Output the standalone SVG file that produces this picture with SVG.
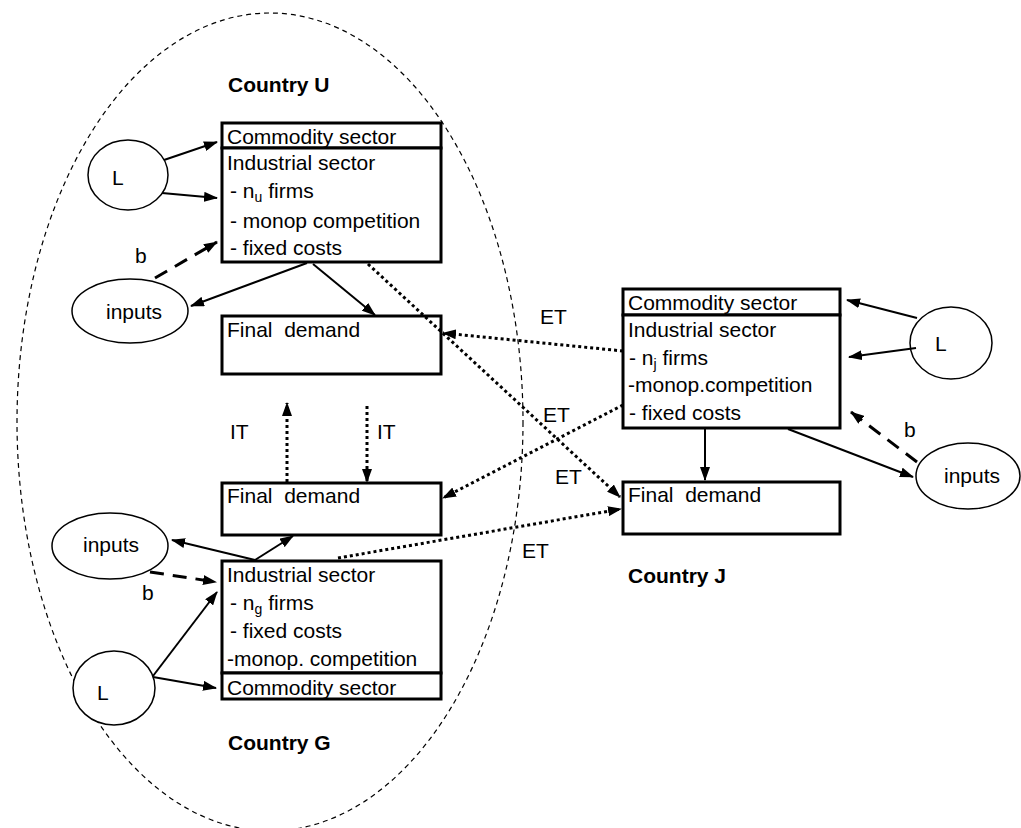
<svg xmlns="http://www.w3.org/2000/svg" width="1021" height="828" viewBox="0 0 1021 828">
<style>
text{font-family:"Liberation Sans",Arial,sans-serif;font-size:21px;fill:#000}
.bold{font-weight:bold}
.box{fill:#fff;stroke:#000;stroke-width:3}
.ell{fill:#fff;stroke:#000;stroke-width:1.5}
.solid{stroke:#000;stroke-width:2;fill:none}
.dot{stroke:#000;stroke-width:3;fill:none;stroke-dasharray:3 3}
.dash{stroke:#000;stroke-width:3;fill:none;stroke-dasharray:14 9}
.sub{font-size:14px}
</style>
<defs>
<marker id="ah" viewBox="0 0 14 10" refX="13" refY="5" markerWidth="14" markerHeight="10" markerUnits="userSpaceOnUse" orient="auto"><path d="M0,0 L14,5 L0,10 z" fill="#000"/></marker>
</defs>
<rect width="1021" height="828" fill="#fff"/>
<ellipse id="countryU-G" cx="270" cy="422" rx="253" ry="409" fill="none" stroke="#000" stroke-width="1.2" stroke-dasharray="5 4"/>
<g id="labels">
<text class="bold" x="228" y="92">Country U</text>
<text class="bold" x="628" y="583">Country J</text>
<text class="bold" x="228" y="750">Country G</text>
</g>
<g id="U-commodity"><rect class="box" x="222" y="123" width="219" height="25"/><text x="227" y="144">Commodity sector</text></g>
<g id="U-industrial"><rect class="box" x="222" y="148" width="219" height="114"/>
<text x="227" y="170">Industrial sector</text>
<text x="230" y="198">- n<tspan class="sub" dy="4">u</tspan><tspan dy="-4"> firms</tspan></text>
<text x="230" y="228">- monop competition</text>
<text x="230" y="255">- fixed costs</text></g>
<g id="U-final"><rect class="box" x="222" y="316" width="219" height="58"/><text x="227" y="337">Final&#160; demand</text></g>
<g id="U-L"><ellipse class="ell" cx="128" cy="175" rx="40" ry="35"/><text x="112" y="185">L</text></g>
<g id="U-inputs"><ellipse class="ell" cx="130" cy="311" rx="58" ry="32"/><text x="106" y="319">inputs</text></g>
<g id="G-final"><rect class="box" x="222" y="483" width="219" height="52"/><text x="227" y="503">Final&#160; demand</text></g>
<g id="G-industrial"><rect class="box" x="222" y="561" width="219" height="112"/>
<text x="227" y="582">Industrial sector</text>
<text x="230" y="610">- n<tspan class="sub" dy="4">g</tspan><tspan dy="-4"> firms</tspan></text>
<text x="230" y="638">- fixed costs</text>
<text x="227" y="666">-monop. competition</text></g>
<g id="G-commodity"><rect class="box" x="222" y="673" width="219" height="26"/><text x="227" y="695">Commodity sector</text></g>
<g id="G-inputs"><ellipse class="ell" cx="110" cy="546" rx="58" ry="33"/><text x="83" y="552">inputs</text></g>
<g id="G-L"><ellipse class="ell" cx="114" cy="688" rx="41" ry="37"/><text x="97" y="700">L</text></g>
<g id="J-commodity"><rect class="box" x="623" y="289" width="217" height="26"/><text x="628" y="310">Commodity sector</text></g>
<g id="J-industrial"><rect class="box" x="623" y="315" width="217" height="113"/>
<text x="628" y="337">Industrial sector</text>
<text x="629" y="365">- n<tspan class="sub" dy="4">j</tspan><tspan dy="-4"> firms</tspan></text>
<text x="628" y="392">-monop.competition</text>
<text x="629" y="420">- fixed costs</text></g>
<g id="J-final"><rect class="box" x="623" y="482" width="217" height="52"/><text x="628" y="502">Final&#160; demand</text></g>
<g id="J-L"><ellipse class="ell" cx="951" cy="343" rx="41" ry="36"/><text x="935" y="351">L</text></g>
<g id="J-inputs"><ellipse class="ell" cx="968" cy="476" rx="52" ry="33"/><text x="944" y="483">inputs</text></g>
<g id="connectors">
<line class="solid" x1="164" y1="160" x2="217" y2="142" marker-end="url(#ah)"/>
<line class="solid" x1="162" y1="193" x2="217" y2="198" marker-end="url(#ah)"/>
<line class="dash" x1="155" y1="278" x2="217" y2="242" marker-end="url(#ah)"/>
<line class="solid" x1="307" y1="263" x2="191" y2="306" marker-end="url(#ah)"/>
<line class="solid" x1="313" y1="264" x2="375" y2="315" marker-end="url(#ah)"/>
<line class="dot" x1="368" y1="264" x2="620" y2="497" marker-end="url(#ah)"/>
<line class="dot" x1="623" y1="351" x2="443" y2="333" marker-end="url(#ah)"/>
<line class="dot" x1="623" y1="405" x2="443" y2="498" marker-end="url(#ah)"/>
<line class="dot" x1="338" y1="558" x2="621" y2="509" marker-end="url(#ah)"/>
<line class="dot" x1="287" y1="482" x2="287" y2="403" marker-end="url(#ah)"/>
<line class="dot" x1="367" y1="406" x2="367" y2="482" marker-end="url(#ah)"/>
<line class="solid" x1="255" y1="560" x2="293" y2="536" marker-end="url(#ah)"/>
<line class="solid" x1="255" y1="560" x2="172" y2="540" marker-end="url(#ah)"/>
<line class="dash" x1="150" y1="572" x2="216" y2="582" marker-end="url(#ah)"/>
<line class="solid" x1="153" y1="676" x2="217" y2="592" marker-end="url(#ah)"/>
<line class="solid" x1="153" y1="677" x2="216" y2="688" marker-end="url(#ah)"/>
<line class="solid" x1="917" y1="318" x2="847" y2="300" marker-end="url(#ah)"/>
<line class="solid" x1="916" y1="348" x2="849" y2="357" marker-end="url(#ah)"/>
<line class="dash" x1="917" y1="462" x2="851" y2="412" marker-end="url(#ah)"/>
<line class="solid" x1="788" y1="429" x2="913" y2="477" marker-end="url(#ah)"/>
<line class="solid" x1="705" y1="429" x2="705" y2="480" marker-end="url(#ah)"/>
<text x="135" y="263">b</text>
<text x="142" y="600">b</text>
<text x="904" y="437">b</text>
<text x="230" y="439">IT</text>
<text x="377" y="439">IT</text>
<text x="540" y="324">ET</text>
<text x="543" y="422">ET</text>
<text x="555" y="484">ET</text>
<text x="522" y="558">ET</text>
</g>
</svg>
